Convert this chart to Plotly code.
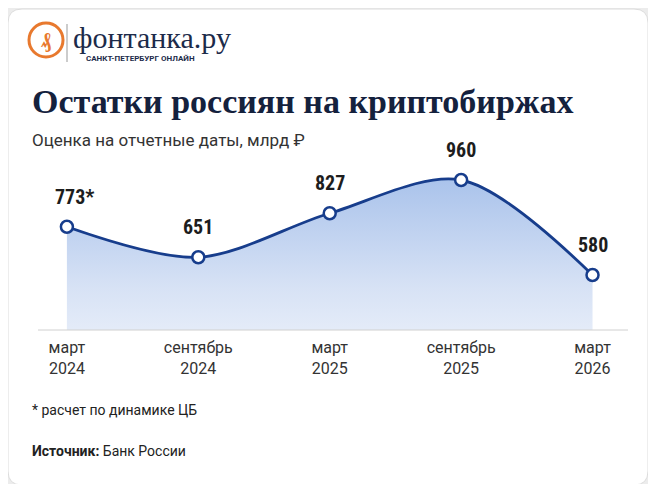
import plotly.graph_objects as go

labels = ["март<br>2024", "сентябрь<br>2024", "март<br>2025", "сентябрь<br>2025", "март<br>2026"]
values = [773, 651, 827, 960, 580]
value_text = ["773*", "651", "827", "960", "580"]

OFF = 8  # browser body margin
W, H = 656 - 2 * OFF, 492 - 2 * OFF
xs = list(range(len(values)))
fig = go.Figure()
fig.add_trace(go.Scatter(
    x=xs, y=values, mode="lines+markers",
    line=dict(shape="spline", smoothing=0.9, color="#173d8c", width=2.8),
    marker=dict(size=12, color="white", line=dict(color="#173d8c", width=2.5)),
    fill="tozeroy",
    fillgradient=dict(type="vertical", colorscale=[[0, "rgba(255,255,255,1)"], [0.55, "rgba(215,226,245,1)"], [1, "rgba(170,195,235,1)"]]),
    hoverinfo="skip", cliponaxis=False))
for x, v, t in zip(xs, values, value_text):
    fig.add_annotation(x=x, y=v, text=f"<b>{t}</b>", showarrow=False, yshift=30, xshift=8 if t.endswith("*") else 0,
                       font=dict(family="Roboto Condensed, Roboto, sans-serif", size=20, color="#1d1d1d"))

# layout in reference pixel coordinates
pl, pr, pt, pb = 38, 628, 170, 330
l, r, t, b = pl - OFF, W - (pr - OFF), pt - OFF, H - (pb - OFF)
pw, ph = W - l - r, H - t - b
def X(p): return (p - OFF - l) / pw
def Y(p): return (H - b - (p - OFF)) / ph
x0, x1, y0, y1, rad = 8, 648, 9, 485, 14
path = (f"M {X(x0+rad)},{Y(y0)} L {X(x1-rad)},{Y(y0)} Q {X(x1)},{Y(y0)} {X(x1)},{Y(y0+rad)} "
        f"L {X(x1)},{Y(y1-rad)} Q {X(x1)},{Y(y1)} {X(x1-rad)},{Y(y1)} L {X(x0+rad)},{Y(y1)} "
        f"Q {X(x0)},{Y(y1)} {X(x0)},{Y(y1-rad)} L {X(x0)},{Y(y0+rad)} Q {X(x0)},{Y(y0)} {X(x0+rad)},{Y(y0)} Z")
fig.update_layout(shapes=[
    dict(type="path", xref="paper", yref="paper", layer="below", path=path, fillcolor="white", line=dict(color="#dcdcdc", width=1)),
    dict(type="circle", xref="paper", yref="paper", x0=X(29), x1=X(63), y0=Y(57), y1=Y(23), line=dict(color="#e8792e", width=3)),
    dict(type="line", xref="paper", yref="paper", x0=X(67), x1=X(67), y0=Y(24), y1=Y(62), line=dict(color="#999", width=1)),
    dict(type="line", xref="paper", yref="paper", x0=X(38), x1=X(628), y0=Y(330), y1=Y(330), line=dict(color="#d0d0d0", width=1)),
])
ann = [
    (46, 40, "<b>₰</b>", 20, "#e8792e", "Liberation Serif", "center"),
    (71, 37, "фонтанка.ру", 30, "#1c2b4a", "Liberation Serif", "left"),
    (84, 58, "<b>САНКТ-ПЕТЕРБУРГ ОНЛАЙН</b>", 8, "#1c2b4a", "Roboto", "left"),
    (30, 101, "<b>Остатки россиян на криптобиржах</b>", 34, "#14213d", "Liberation Serif", "left"),
    (30, 140, "Оценка на отчетные даты, млрд ₽", 17, "#333", "Roboto", "left"),
    (30, 410, "* расчет по динамике ЦБ", 14, "#222", "Roboto", "left"),
    (30, 451, "<b>Источник:</b> Банк России", 14, "#222", "Roboto", "left"),
]
fig.update_layout(annotations=list(fig.layout.annotations) + [
    dict(x=X(xx), y=Y(yy), xref="paper", yref="paper", text=tx, showarrow=False, xanchor=xa, yanchor="middle",
         font=dict(size=s, color=c, family=f)) for xx, yy, tx, s, c, f, xa in ann])

fig.update_layout(
    width=W, height=H, margin=dict(l=l, r=r, t=t, b=b),
    paper_bgcolor="#ececec", plot_bgcolor="rgba(0,0,0,0)", showlegend=False,
    xaxis=dict(range=[-0.22, 4.27], tickvals=xs, ticktext=labels, showgrid=False, zeroline=False,
               showline=False, ticks="", ticklabelstandoff=6,
               tickfont=dict(family="Roboto", size=16, color="#333")),
    yaxis=dict(range=[360, 1000], visible=False),
)
fig.write_html("out.html")
